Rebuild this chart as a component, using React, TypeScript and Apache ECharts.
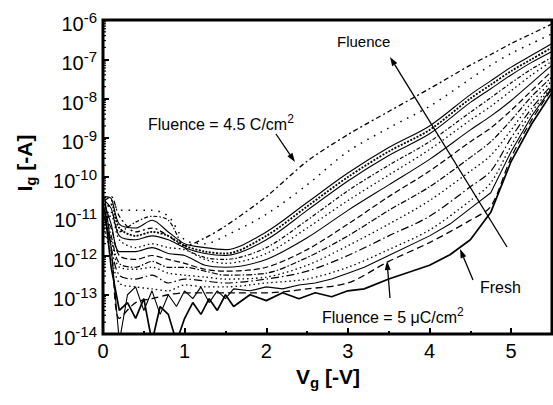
import React, { useEffect, useRef } from "react";
import * as echarts from "echarts";

// Gate voltage grids [-V]
const V = [0.02, 0.1, 0.2, 0.4, 0.6, 0.8, 1.0, 1.25, 1.5, 2.0, 2.5, 3.0, 3.5, 4.0, 4.5, 4.75, 5.0, 5.25, 5.5];
const VN = [0.02, 0.1, 0.2, 0.3, 0.4, 0.5, 0.6, 0.7, 0.8, 0.9, 1.0, 1.1, 1.2, 1.3, 1.4, 1.5, 1.6, 1.8, 2.0, 2.2, 2.4, 2.6, 2.8, 3.0, 3.2, 3.5, 4.0, 4.25, 4.5, 4.75, 5.0, 5.25, 5.5];

// log10(Ig [-A]), one array per curve
const logFresh = [-10.8, -12.3, -13.4, -13.2, -13.6, -13.1, -14.2, -13.3, -13.5, -14.2, -13.6, -13.2, -13.5, -13.1, -13.4, -13.0, -13.3, -13.0, -13.15, -12.95, -13.1, -12.95, -13.05, -12.9, -12.85, -12.6, -12.25, -11.98, -11.6, -10.9, -9.6, -8.65, -7.85];
const logC2 = [-10.5, -11.8, -14.2, -13.0, -12.8, -13.4, -12.9, -13.5, -13.0, -13.3, -12.9, -13.1, -12.8, -13.2, -12.9, -13.1, -12.85, -12.9, -12.8, -12.85, -12.75, -12.7, -12.6, -12.45, -12.3, -12.0, -11.5, -11.2, -10.8, -10.4, -9.35, -8.45, -7.72];
const log5uC = [-11.0, -11.8, -13.6, -13.2, -13.1, -13.0, -12.95, -12.95, -12.95, -12.95, -12.85, -12.7, -12.15, -11.67, -11.1, -10.75, -9.5, -8.55, -7.75];
const logC3 = [-11.3, -12.0, -12.7, -12.8, -12.85, -12.9, -12.75, -12.8, -12.8, -12.7, -12.6, -12.3, -11.85, -11.35, -10.6, -10.15, -9.2, -8.35, -7.7];
const logC4 = [-11.0, -11.8, -12.5, -12.6, -12.5, -12.7, -12.6, -12.65, -12.7, -12.6, -12.4, -12.0, -11.5, -11.0, -10.25, -9.85, -9.0, -8.25, -7.65];
const logC5 = [-11.2, -11.6, -12.3, -12.35, -12.3, -12.45, -12.5, -12.55, -12.6, -12.55, -12.25, -11.75, -11.2, -10.6, -9.85, -9.45, -8.8, -8.1, -7.55];
const logC6 = [-10.9, -11.5, -12.2, -12.3, -12.15, -12.3, -12.3, -12.4, -12.5, -12.45, -12.05, -11.5, -10.85, -10.25, -9.5, -9.1, -8.55, -7.95, -7.45];
const logC7 = [-11.0, -11.3, -12.0, -12.1, -12.0, -12.1, -12.2, -12.35, -12.4, -12.3, -11.85, -11.2, -10.5, -9.85, -9.1, -8.75, -8.3, -7.8, -7.3];
const logC8 = [-10.7, -11.2, -11.9, -11.9, -11.8, -11.95, -12.0, -12.25, -12.3, -12.1, -11.55, -10.85, -10.2, -9.55, -8.8, -8.45, -8.05, -7.6, -7.15];
const logC9 = [-11.0, -11.0, -11.6, -11.8, -11.7, -11.8, -11.85, -12.1, -12.2, -11.95, -11.3, -10.6, -9.95, -9.3, -8.55, -8.2, -7.8, -7.4, -7.05];
const logC10 = [-10.9, -10.9, -11.4, -11.15, -11.0, -11.1, -11.8, -12.05, -12.1, -11.8, -11.1, -10.35, -9.7, -9.1, -8.35, -7.98, -7.6, -7.25, -6.95];
const logC11 = [-10.6, -10.8, -11.5, -11.6, -11.5, -11.6, -11.8, -11.95, -12.0, -11.6, -10.85, -10.1, -9.45, -8.9, -8.1, -7.75, -7.4, -7.08, -6.8];
const logC12 = [-10.8, -10.7, -11.3, -11.5, -11.4, -11.5, -11.75, -11.9, -11.95, -11.5, -10.75, -10.0, -9.35, -8.8, -8.0, -7.65, -7.3, -7.0, -6.7];
const logC13 = [-10.5, -10.55, -11.2, -11.3, -11.1, -11.4, -11.7, -11.8, -11.85, -11.4, -10.65, -9.9, -9.25, -8.7, -7.9, -7.55, -7.2, -6.9, -6.6];
const logC14 = [-10.7, -10.6, -10.85, -10.85, -10.85, -11.0, -11.6, -11.7, -11.5, -10.95, -10.2, -9.35, -8.75, -8.2, -7.5, -7.15, -6.85, -6.6, -6.35];
const log45C = [-10.6, -10.5, -11.0, -11.4, -11.3, -11.5, -11.75, -11.55, -11.25, -10.5, -9.6, -8.92, -8.33, -7.75, -7.15, -6.88, -6.6, -6.35, -6.1];

const xTicks = [0, 1, 2, 3, 4, 5];
const yDecades = [-14, -13, -12, -11, -10, -9, -8, -7];
const minorMantissas = [2, 3, 4, 5, 6, 7, 8, 9];

const FONT = "'Liberation Sans', Arial, Helvetica, sans-serif";

type Curve = { xs: number[]; logs: number[]; dash: any; width: number; smooth: number | boolean };
const curves: Curve[] = [
  { xs: VN, logs: logFresh, dash: "solid", width: 1.7, smooth: false },
  { xs: VN, logs: logC2, dash: "solid", width: 1.1, smooth: false },
  { xs: V, logs: log5uC, dash: [7, 4], width: 1.3, smooth: 0.3 },
  { xs: V, logs: logC3, dash: [1.5, 3], width: 1.3, smooth: 0.3 },
  { xs: V, logs: logC4, dash: [8, 3, 1.5, 3], width: 1.2, smooth: 0.3 },
  { xs: V, logs: logC5, dash: [1.5, 3], width: 1.3, smooth: 0.3 },
  { xs: V, logs: logC6, dash: [6, 2, 1.5, 2], width: 1.2, smooth: 0.3 },
  { xs: V, logs: logC7, dash: [6, 3], width: 1.2, smooth: 0.3 },
  { xs: V, logs: logC8, dash: "solid", width: 1.1, smooth: 0.3 },
  { xs: V, logs: logC9, dash: [1.5, 3], width: 1.3, smooth: 0.3 },
  { xs: V, logs: logC10, dash: [4, 2, 1.5, 2], width: 1.2, smooth: 0.3 },
  { xs: V, logs: logC11, dash: "solid", width: 1.1, smooth: 0.3 },
  { xs: V, logs: logC12, dash: [2, 1.5], width: 1.8, smooth: 0.3 },
  { xs: V, logs: logC13, dash: "solid", width: 1.1, smooth: 0.3 },
  { xs: V, logs: logC14, dash: [1.5, 6], width: 1.5, smooth: 0.3 },
  { xs: V, logs: log45C, dash: [5, 3, 2, 3], width: 1.3, smooth: 0.3 },
];

function arrow(x1: number, y1: number, x2: number, y2: number) {
  const ang = Math.atan2(y2 - y1, x2 - x1);
  const L = 9;
  const W = 3;
  const bx = x2 - L * Math.cos(ang);
  const by = y2 - L * Math.sin(ang);
  const nx = -Math.sin(ang);
  const ny = Math.cos(ang);
  return [
    { type: "line", shape: { x1, y1, x2: bx, y2: by }, style: { stroke: "#000", lineWidth: 1.3 } },
    {
      type: "polygon",
      shape: { points: [[x2, y2], [bx + W * nx, by + W * ny], [bx - W * nx, by - W * ny]] },
      style: { fill: "#000" },
    },
  ];
}

function note(text: string, x: number, y: number, size: number, sup?: string) {
  return {
    type: "text",
    x,
    y,
    style: {
      text: sup ? `{t|${text}}{s|${sup}}` : `{t|${text}}`,
      align: "left",
      verticalAlign: "middle",
      rich: {
        t: { fontSize: size, fontFamily: FONT, color: "#000", lineHeight: 22 },
        s: { fontSize: 12, fontFamily: FONT, color: "#000", lineHeight: 12, verticalAlign: "top" },
      },
    },
  };
}

export default function App() {
  const ref = useRef<HTMLDivElement>(null);
  useEffect(() => {
    if (!ref.current) return;
    const chart = echarts.init(ref.current, undefined, { renderer: "svg" });
    const series = curves.map((c) => ({
      type: "line",
      xAxisIndex: 0,
      yAxisIndex: 0,
      data: c.xs.map((x, i) => [x, Math.pow(10, c.logs[i])]),
      showSymbol: false,
      symbol: "none",
      smooth: c.smooth,
      clip: true,
      lineStyle: { color: "#000", width: c.width, type: c.dash },
      silent: true,
    }));
    chart.setOption({
      animation: false,
      backgroundColor: "#fff",
      grid: { left: 103, right: 1, top: 20, bottom: 71, show: true, borderColor: "#000", borderWidth: 3, backgroundColor: "transparent" },
      xAxis: [
        {
          type: "value",
          min: 0,
          max: 5.5,
          interval: 1,
          splitLine: { show: false },
          axisLine: { show: false },
          axisTick: { show: true, inside: true, length: 6, lineStyle: { color: "#000", width: 2 } },
          axisLabel: {
            color: "#000",
            fontSize: 20,
            fontFamily: FONT,
            margin: 7,
            showMaxLabel: false,
            formatter: (v: number) => (xTicks.includes(v) ? String(v) : ""),
          },
        },
        {
          type: "value",
          min: 0,
          max: 5.5,
          interval: 0.5,
          position: "bottom",
          splitLine: { show: false },
          axisLine: { show: false },
          axisTick: { show: true, inside: true, length: 3, lineStyle: { color: "#000", width: 2 } },
          axisLabel: { show: false },
        },
      ],
      yAxis: {
        type: "log",
        logBase: 10,
        min: 1e-14,
        max: 1e-6,
        splitNumber: 8,
        splitLine: { show: false },
        axisLine: { show: false },
        axisTick: { show: true, inside: true, length: 6, lineStyle: { color: "#000", width: 2 } },
        axisLabel: {
          margin: 6,
          formatter: (v: number) => `{b|10}{s|${Math.round(Math.log10(v))}}`,
          rich: {
            b: { fontSize: 20, fontFamily: FONT, color: "#000", lineHeight: 20, padding: [8, 0, 0, 0] },
            s: { fontSize: 15, fontFamily: FONT, color: "#000", lineHeight: 18, verticalAlign: "top" },
          },
        },
      },
      series,
    });

    // log-axis minor ticks (2..9 within each decade), placed through the axis scale
    const x0 = chart.convertToPixel({ xAxisIndex: 0 }, 0) as number;
    const minorTicks: any[] = [];
    yDecades.forEach((d) => {
      minorMantissas.forEach((m) => {
        const y = chart.convertToPixel({ yAxisIndex: 0 }, m * Math.pow(10, d)) as number;
        minorTicks.push({ type: "line", shape: { x1: x0, y1: y, x2: x0 + 3, y2: y }, style: { stroke: "#000", lineWidth: 1.2 } });
      });
    });

    chart.setOption({
      graphic: [
        ...minorTicks,
        ...arrow(507, 247, 390, 57),
        ...arrow(276, 134, 295, 162),
        ...arrow(473, 280, 460, 249),
        ...arrow(390, 298, 387, 261),
        note("Fluence", 337, 41, 15),
        note("Fluence = 4.5 C/cm", 148, 124, 16, "2"),
        note("Fresh", 480, 287, 16),
        note("Fluence = 5 \u03bcC/cm", 322, 317, 16, "2"),
        {
          type: "text",
          x: 328,
          y: 376,
          style: {
            text: "{a|V}{b|g}{a| [-V]}",
            align: "center",
            verticalAlign: "middle",
            rich: {
              a: { fontSize: 21, fontWeight: "bold", fontFamily: FONT, color: "#000", lineHeight: 28 },
              b: { fontSize: 15, fontWeight: "bold", fontFamily: FONT, color: "#000", lineHeight: 14, verticalAlign: "bottom" },
            },
          },
        },
        {
          type: "text",
          x: 24,
          y: 163,
          rotation: Math.PI / 2,
          style: {
            text: "{a|I}{b|g}{a| [-A]}",
            align: "center",
            verticalAlign: "middle",
            rich: {
              a: { fontSize: 21, fontWeight: "bold", fontFamily: FONT, color: "#000", lineHeight: 28 },
              b: { fontSize: 15, fontWeight: "bold", fontFamily: FONT, color: "#000", lineHeight: 14, verticalAlign: "bottom" },
            },
          },
        },
      ],
    });
    return () => chart.dispose();
  }, []);
  return <div ref={ref} style={{ position: "fixed", left: 0, top: 0, width: 553, height: 405, background: "#fff" }} />;
}
